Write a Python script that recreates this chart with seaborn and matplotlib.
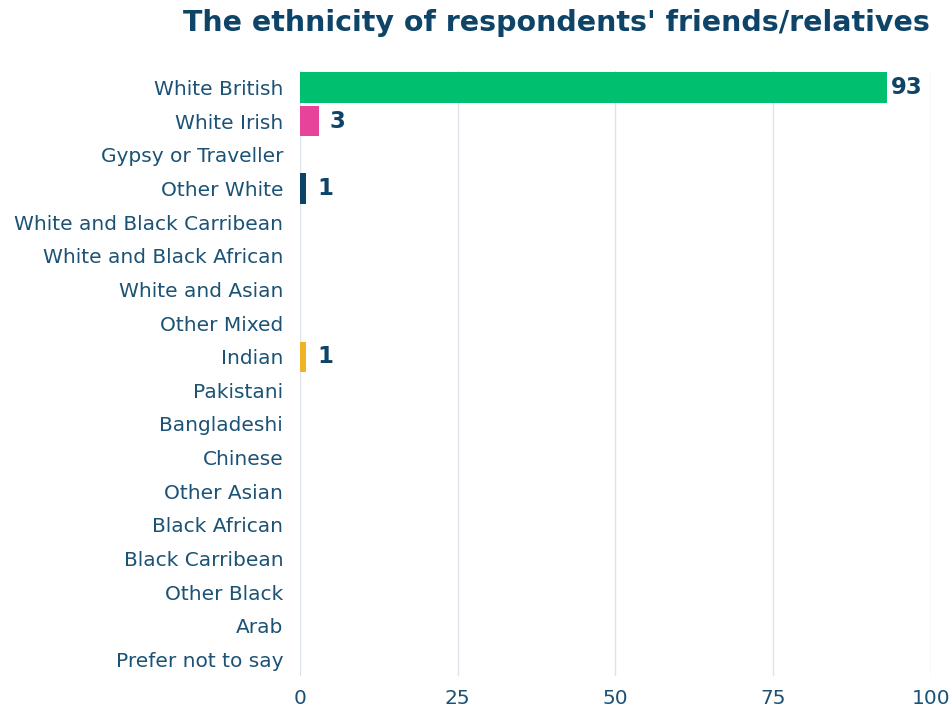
import matplotlib
matplotlib.use("Agg")
import matplotlib.pyplot as plt
import seaborn as sns
import pandas as pd

categories = [
    "White British", "White Irish", "Gypsy or Traveller", "Other White",
    "White and Black Carribean", "White and Black African", "White and Asian",
    "Other Mixed", "Indian", "Pakistani", "Bangladeshi", "Chinese",
    "Other Asian", "Black African", "Black Carribean", "Other Black", "Arab",
    "Prefer not to say",
]
values = [93, 3, 0, 1, 0, 0, 0, 0, 1, 0, 0, 0, 0, 0, 0, 0, 0, 0]
bar_colors = {
    "White British": "#00BF6F",
    "White Irish": "#E8439A",
    "Other White": "#0B4468",
    "Indian": "#F0B323",
}
x_ticks = [0, 25, 50, 75, 100]

NAVY = "#0D4468"
LABEL = "#1B5275"
GRID = "#DCE3EB"

sns.set_theme(style="white")
plt.rcParams["font.family"] = ["DejaVu Sans"]

df = pd.DataFrame({"category": categories, "value": values})
palette = {c: bar_colors.get(c, "#0B4468") for c in categories}

fig = plt.figure(figsize=(9.52, 7.08), dpi=100)
ax = fig.add_axes([0.315, 0.045, 0.663, 0.855])

sns.barplot(data=df, x="value", y="category", hue="category", palette=palette,
            order=categories, legend=False, width=0.9, saturation=1,
            linewidth=0, ax=ax, zorder=3)

ax.set_xlim(0, 100)
ax.set_xticks(x_ticks)
ax.set_xticklabels([str(t) for t in x_ticks])
ax.grid(axis="x", color=GRID, linewidth=1, zorder=0)
ax.grid(axis="y", visible=False)
for s in ax.spines.values():
    s.set_visible(False)
ax.tick_params(axis="both", length=0, labelsize=14.5, labelcolor=LABEL)
ax.tick_params(axis="x", pad=9)
ax.tick_params(axis="y", pad=12)
ax.set_xlabel("")
ax.set_ylabel("")

for i, v in enumerate(values):
    if v > 0:
        ax.annotate(str(v), xy=(v, i), xytext=(3 if v > 50 else 8, 0),
                    textcoords="offset points", va="center", ha="left",
                    fontsize=16.5, fontweight="bold", color=NAVY,
                    annotation_clip=False)

fig.text(0.977, 0.968, "The ethnicity of respondents' friends/relatives",
         ha="right", va="center", fontsize=20.5, fontweight="bold", color=NAVY)

fig.savefig("out.png", dpi=100, facecolor="white")
